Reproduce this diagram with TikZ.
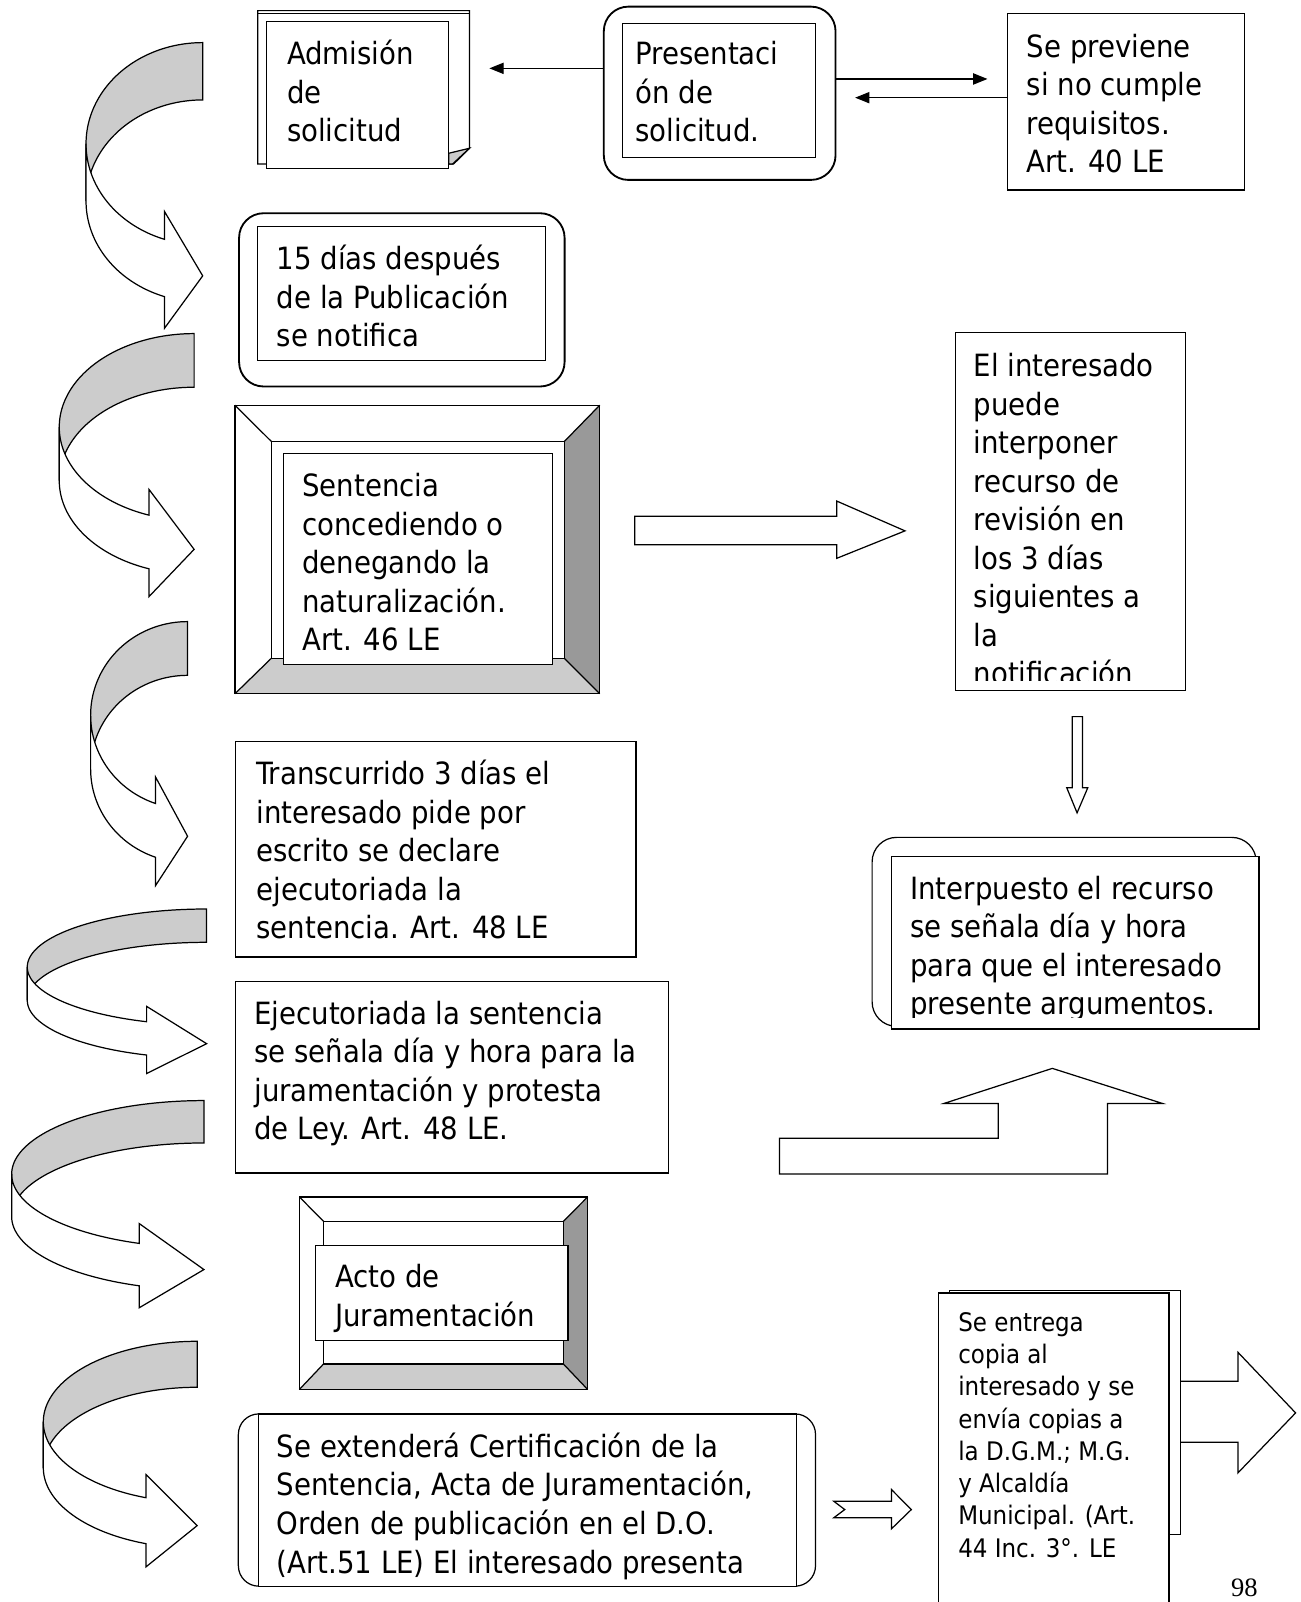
\documentclass[tikz,border=0pt]{standalone}
\usepackage{fontspec}
\setmainfont{DejaVu Sans Condensed}
\newfontfamily\pagefont{Liberation Serif}
\usetikzlibrary{arrows.meta}
\definecolor{bandgray}{HTML}{CCCCCC}
\definecolor{darkbev}{HTML}{999999}
\definecolor{lightbev}{HTML}{CCCCCC}
\tikzset{
  ln/.style={line width=1.2pt, line join=miter, draw=black},
  boxw/.style={ln, fill=white},
  boxthick/.style={line width=1.8pt, draw=black, fill=white},
  txt/.style={anchor=base west, inner sep=0pt, outer sep=0pt},
  lnarrow/.style={ln, -{Triangle[length=14pt,width=11pt]}},
  blockarrow/.style={ln, fill=white},
}
\newcommand\rnode[6][]{%
  \pgfmathsetmacro\rw{#5-#3}\pgfmathsetmacro\rh{#6-#4}%
  \node[#1, anchor=north west, inner sep=0pt, outer sep=0pt, minimum width=\rw pt, minimum height=\rh pt] (#2) at (#3,#4) {};}
\newcommand\bevelbox[9]{%
  \rnode[boxw]{#1}{#2}{#3}{#4}{#5}
  \fill[darkbev] (#4,#3) -- (#4,#5) -- (#8,#9) -- (#8,#7) -- cycle;
  \fill[lightbev] (#2,#5) -- (#4,#5) -- (#8,#9) -- (#6,#9) -- cycle;
  \draw[ln] (#2,#3) -- (#6,#7) (#4,#3) -- (#8,#7) (#2,#5) -- (#6,#9) (#4,#5) -- (#8,#9);
  \draw[ln] (#6,#7) rectangle (#8,#9);
  \draw[ln] (#2,#3) rectangle (#4,#5);
}
% L R T th ry xb headtop headbottom tipy
\newcommand\carrow[9]{%
  \pgfmathsetmacro\crx{#2-#1}%
  \pgfmathsetmacro\cang{acos((#6-#2)/\crx)}%
  \draw[ln, fill=bandgray] plot[domain=-90:-180, samples=50, variable=\t] ({#2+\crx*cos(\t)},{#3+#5+#5*sin(\t)})
     -- plot[domain=-180:-90, samples=50, variable=\t] ({#2+\crx*cos(\t)},{#3+#4+#5+#5*sin(\t)}) -- cycle;
  \draw[ln, fill=white] plot[domain=180:\cang, samples=50, variable=\t] ({#2+\crx*cos(\t)},{#3+#5+#5*sin(\t)})
     -- (#6,#7) -- (#2,#9) -- (#6,#8)
     -- plot[domain=\cang:180, samples=50, variable=\t] ({#2+\crx*cos(\t)},{#3+#4+#5+#5*sin(\t)}) -- cycle;
}
\newcommand\bt[1]{\parbox[t]{700pt}{\fontsize{30}{37.7}\selectfont #1}}
\newcommand\st[1]{\parbox[t]{400pt}{\fontsize{25}{31.6}\selectfont #1}}
\begin{document}
\begin{tikzpicture}[x=1pt,y=-1pt]
\path[use as bounding box, clip] (0,0) rectangle (1273,1568);
\fill[white] (0,0) rectangle (1273,1568);

% curved arrows on the left
\carrow{84.2}{198.4}{41.7}{56.1}{99}{161}{207}{321.3}{270}
\carrow{58}{190}{326.5}{52.5}{91.5}{145.8}{479}{584}{537.7}
\carrow{88.7}{183.6}{608.4}{52.6}{91.6}{152.3}{760.6}{866.7}{818.5}
\carrow{26.7}{202.2}{889.7}{32.6}{56.8}{143.5}{985}{1050.8}{1021.5}
\carrow{11.4}{199.6}{1077.2}{41.5}{72}{136.3}{1197.6}{1280}{1242.6}
\carrow{42.4}{193}{1312.8}{45}{78.8}{142.9}{1443.3}{1533.6}{1493.2}

% Admision (document with folded corner)
\draw[boxw] (252.2,10.4) -- (459.5,10.4) -- (459.5,145.1) -- (444,160.5) -- (252.2,160.5) -- cycle;
\draw[ln] (252.2,13.4) -- (459.5,13.4);
\rnode[boxw]{adm}{261.1}{21.2}{439.3}{164.7}
\draw[ln, fill=bandgray] (439.3,150) -- (459.5,145.1) -- (443,160.5) -- (439.3,160.5) -- cycle;
\node[txt] (tadm) at (281,63.5) {\bt{Admisión\\de\\solicitud}};

% Presentacion
\rnode[boxthick, rounded corners=24pt]{pres}{591}{6.5}{817.8}{176.1}
\rnode[boxw]{presin}{609.5}{22.8}{798.4}{153.9}
\node[txt] (tpres) at (622,63.5) {\bt{Presentaci\\ón de\\solicitud.}};

% Se previene
\rnode[boxw]{prev}{986}{13}{1218}{186}
\node[txt] (tprev) at (1005,56) {\bt{Se previene\\si no cumple\\requisitos.\\Art. 40 LE}};

% line arrows
\coordinate (a1) at (479,66.9);
\coordinate (b1) at (966.5,77.3);
\coordinate (b2) at (837,95.6);
\draw[lnarrow] (pres.west |- a1) -- (a1);
\draw[lnarrow] (pres.east |- b1) -- (b1);
\draw[lnarrow] (prev.west |- b2) -- (b2);

% 15 dias
\rnode[boxthick, rounded corners=24pt]{quince}{234}{208.7}{552.6}{378.3}
\rnode[boxw]{quincein}{252.2}{221.8}{533.6}{353.2}
\node[txt] (tquince) at (271,264) {\bt{15 días después\\de la Publicación\\se notifica}};

% Sentencia
\bevelbox{sent}{230}{396.6}{587}{679}{265.7}{432.2}{552.3}{644.2}
\rnode[boxw]{sentin}{277.3}{443.6}{540.7}{650.7}
\node[txt] (tsent) at (296,486) {\bt{Sentencia\\concediendo o\\denegando la\\naturalización.\\Art. 46 LE}};

% block arrow right
\draw[blockarrow] (621.2,505.2) -- (818.9,505.2) -- (818.9,490.4) -- (885.8,519.6) -- (818.9,546.5) -- (818.9,533.1) -- (621.2,533.1) -- cycle;

% El interesado
\rnode[boxw]{rec}{935}{325.6}{1160}{675.7}
\begin{scope}
\clip (935,325.6) rectangle (1160,666);
\node[txt] (trec) at (953,368.5) {\bt{El interesado\\puede\\interponer\\recurso de\\revisión en\\los 3 días\\siguientes a\\la\\notificación}};
\end{scope}

% down arrow
\draw[blockarrow] (1049.4,701.4) -- (1059.5,701.4) -- (1059.5,771) -- (1064.7,771) -- (1054.2,795.6) -- (1044.1,771) -- (1049.4,771) -- cycle;

% Interpuesto
\rnode[boxw, rounded corners=24pt]{intb}{853.6}{819.6}{1229.6}{1004.6}
\rnode[boxw]{int}{872.5}{838.2}{1232.2}{1007.2}
\begin{scope}
\clip (872.5,838.2) rectangle (1232.2,996);
\node[txt] (tint) at (891,880) {\bt{Interpuesto el recurso\\se señala día y hora\\para que el interesado\\presente argumentos.}};
\end{scope}

% Transcurrido
\rnode[boxw]{trans}{230.2}{726}{622.4}{936.7}
\node[txt] (ttrans) at (251,768.2) {\bt{Transcurrido 3 días el\\interesado pide por\\escrito se declare\\ejecutoriada la\\sentencia. Art. 48 LE}};

% Ejecutoriada
\rnode[boxw]{ejec}{230.2}{960.5}{654}{1148}
\node[txt] (tejec) at (249,1002.5) {\bt{Ejecutoriada la sentencia\\se señala día y hora para la\\juramentación y protesta\\de Ley. Art. 48 LE.}};

% step arrow
\draw[blockarrow] (763,1149) -- (763,1114) -- (977,1114) -- (977,1080) -- (924,1080) -- (1030,1045.7) -- (1137.7,1080) -- (1084,1080) -- (1084,1149) -- cycle;

% Acto de Juramentacion
\bevelbox{acto}{293}{1171.5}{575.2}{1360}{316.7}{1195.4}{551.4}{1335}
\rnode[boxw]{actoin}{308.8}{1218.8}{556}{1311.8}
\node[txt] (tacto) at (328,1260.5) {\bt{Acto de\\Juramentación}};

% Se extendera
\rnode[boxw, rounded corners=20pt]{certb}{233.3}{1383.9}{798.2}{1552.5}
\rnode[boxw]{cert}{253}{1383.9}{779.6}{1552.5}
\begin{scope}
\clip (253,1383.9) rectangle (779.6,1552.5);
\node[txt] (tcert) at (271,1426.5) {\bt{Se extenderá Certificación de la\\Sentencia, Acta de Juramentación,\\Orden de publicación en el D.O.\\(Art.51 LE) El interesado presenta}};
\end{scope}

% chevron arrow
\draw[blockarrow] (816,1469.3) -- (872.5,1469.3) -- (872.5,1457.9) -- (892,1477.5) -- (872.5,1496.4) -- (872.5,1485.6) -- (816,1485.6) -- (826.8,1477.5) -- cycle;

% big right arrow
\draw[blockarrow] (1155.2,1351.9) -- (1211.7,1351.9) -- (1211.7,1323.6) -- (1268.1,1382.9) -- (1211.7,1441.6) -- (1211.7,1411.6) -- (1155.2,1411.6);

% Se entrega
\rnode[boxw]{entb}{929.6}{1262.9}{1155.2}{1502}
\rnode[boxw]{ent}{918.8}{1265.5}{1144.2}{1600}
\node[txt] (tent) at (938,1303) {\st{Se entrega\\copia al\\interesado y se\\envía copias a\\la D.G.M.; M.G.\\y Alcaldía\\Municipal. (Art.\\44 Inc. 3°. LE}};

% page number
\node[txt] (pg) at (1205,1563) {\pagefont\fontsize{26}{30}\selectfont 98};
\end{tikzpicture}
\end{document}
